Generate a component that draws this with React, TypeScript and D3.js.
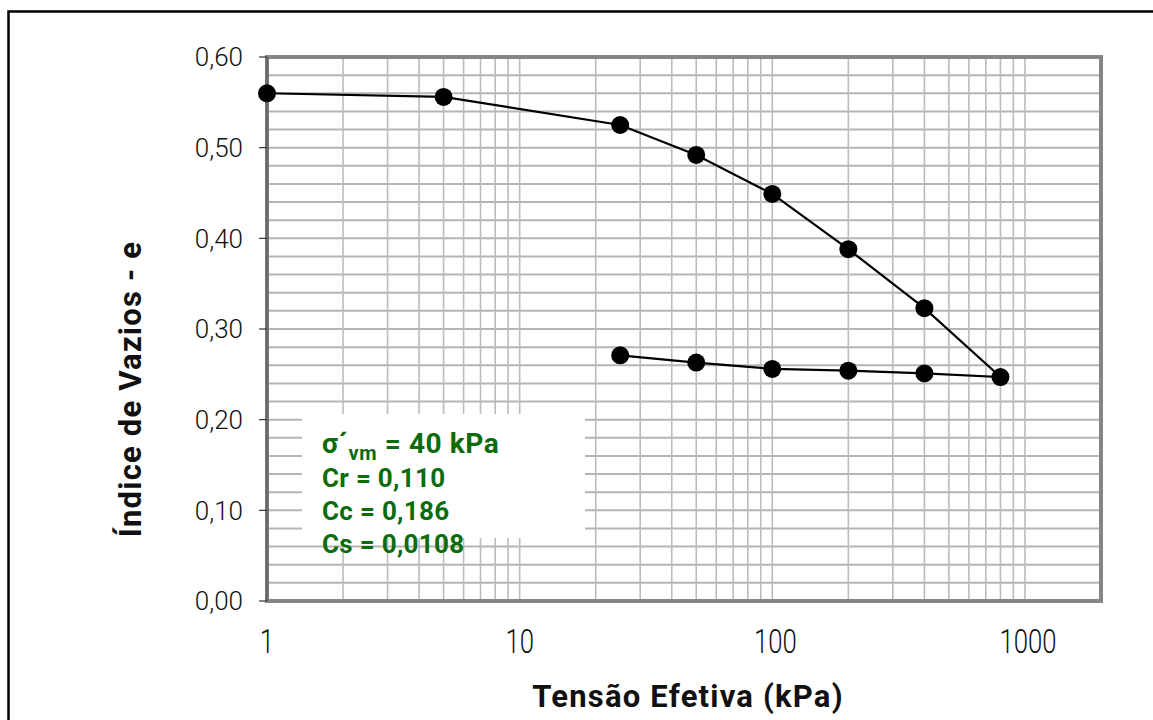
import React from 'react';
import * as d3 from 'd3';

// ensaio de adensamento - carregamento e descarregamento
const loadStress = [1, 5, 25, 50, 100, 200, 400, 800];
const loadVoid = [0.56, 0.556, 0.525, 0.492, 0.449, 0.388, 0.323, 0.247];
const unloadStress = [400, 200, 100, 50, 25];
const unloadVoid = [0.251, 0.254, 0.256, 0.263, 0.271];

const yTicks = [0, 0.1, 0.2, 0.3, 0.4, 0.5, 0.6];
const xTicks = [1, 10, 100, 1000];
const infoLines = ['Cr = 0,110', 'Cc = 0,186', 'Cs = 0,0108'];

const W = 1153;
const H = 720;
const plot = { left: 267, top: 57, right: 1101, bottom: 601 };

const App = () => {
  const x = d3.scaleLog().domain([1, 2000]).range([plot.left, plot.right]);
  const y = d3.scaleLinear().domain([0, 0.6]).range([plot.bottom, plot.top]);

  // pontos na ordem do ensaio
  const pts: [number, number][] = [
    ...loadStress.map((s, i) => [s, loadVoid[i]] as [number, number]),
    ...unloadStress.map((s, i) => [s, unloadVoid[i]] as [number, number]),
  ];

  const line = d3.line<[number, number]>()
    .x((d) => x(d[0]))
    .y((d) => y(d[1]));

  // grade: menores em 2..9 de cada decada
  const vGrid: number[] = [];
  for (let dec = 1; dec <= 1000; dec *= 10) {
    for (let k = 1; k <= 9; k++) {
      const v = dec * k;
      if (v > 1 && v <= 1000) vGrid.push(v);
    }
  }
  const hGrid = d3.range(1, 30).map((i) => i * 0.02);

  const fmt = (v: number) => v.toFixed(2).replace('.', ',');
  const green = '#0a6c0a';

  return (
    <svg width={W} height={H} style={{ position: 'absolute', left: 0, top: 0, background: '#fff' }}>
      <rect x={8.5} y={11.5} width={1300} height={900} fill="#fff" stroke="#000" strokeWidth={2.5} />

      {/* grade */}
      <g>
        {hGrid.map((v) => (
          <line key={'h' + v} x1={plot.left} x2={plot.right} y1={y(v)} y2={y(v)} stroke="#b5b5b5" strokeWidth={2} />
        ))}
        {vGrid.map((v) => (
          <line key={'v' + v} x1={x(v)} x2={x(v)} y1={plot.top} y2={plot.bottom} stroke="#bcbcbc" strokeWidth={1.6} />
        ))}
      </g>

      {/* caixa de texto */}
      <rect x={302} y={414} width={283} height={124} fill="#fff" />

      {/* moldura */}
      <rect x={plot.left} y={plot.top} width={plot.right - plot.left} height={plot.bottom - plot.top}
        fill="none" stroke="#868686" strokeWidth={4} />
      <line x1={plot.left} x2={plot.left} y1={plot.top} y2={plot.bottom} stroke="#6a6a6a" strokeWidth={3} />

      {/* eixo y */}
      {yTicks.map((t) => (
        <g key={'yt' + t}>
          <line x1={plot.left - 8} x2={plot.left} y1={y(t)} y2={y(t)} stroke="#333" strokeWidth={1.2} />
          <text x={243} y={y(t)} dy="0.36em" textAnchor="end" fontFamily="Roboto, sans-serif" fontWeight={300}
            fontSize={26} fill="#111">{fmt(t)}</text>
        </g>
      ))}

      {/* eixo x */}
      {xTicks.map((t) => (
        <text key={'xt' + t} transform={`translate(${x(t) + (t >= 100 ? 3 : 0)}, 653) scale(0.78, 1)`}
          textAnchor="middle" fontFamily="Roboto, sans-serif" fontWeight={300} fontSize={33} fill="#111">{t}</text>
      ))}

      {/* serie */}
      <path d={line(pts) || ''} fill="none" stroke="#000" strokeWidth={2.2} />
      {pts.map((d, i) => (
        <circle key={'p' + i} cx={x(d[0])} cy={y(d[1])} r={9} fill="#000" />
      ))}

      {/* parametros */}
      <g fontFamily="Roboto, sans-serif" fontWeight={700} fontSize={26} fill={green}>
        <text x={322} y={453} fontSize={28} letterSpacing={0.6}>
          σ´<tspan fontSize={20} dy={7}>vm</tspan><tspan dy={-7}> = 40 kPa</tspan>
        </text>
        {infoLines.map((s, i) => (
          <text key={s} x={322} y={487 + i * 33} letterSpacing={0.3}>{s}</text>
        ))}
      </g>

      {/* titulos */}
      <text x={688} y={707} textAnchor="middle" fontFamily="Roboto, sans-serif" fontWeight={700} fontSize={31}
        letterSpacing={1.2} fill="#111">Tensão Efetiva (kPa)</text>
      <text transform="translate(141, 389) rotate(-90)" textAnchor="middle" fontFamily="Roboto, sans-serif"
        fontWeight={700} fontSize={31} letterSpacing={1.2} fill="#111">Índice de Vazios - e</text>
    </svg>
  );
};

export default App;
